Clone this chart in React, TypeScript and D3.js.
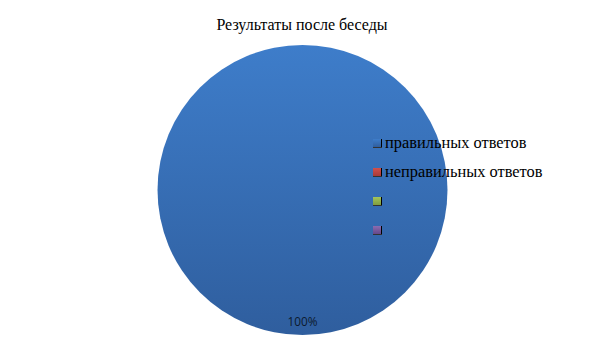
import React from "react";
import * as d3 from "d3";

const categories = ["правильных ответов", "неправильных ответов", "", ""];
const values = [100, 0, 0, 0];
const title = "Результаты после беседы";

const W = 605, H = 340;
const cx = 302.5, cy = 190, R = 145;

export default function App() {
  const pie = d3.pie<number>().value((d) => d).sort(null);
  const arcs = pie(values);
  const arcGen = d3.arc<d3.PieArcDatum<number>>().innerRadius(0).outerRadius(R);
  const labelArc = d3.arc<d3.PieArcDatum<number>>().innerRadius(R * 0.91).outerRadius(R * 0.91);
  const total = d3.sum(values);
  const fmt = d3.format(".0%");
  const legendY = d3.scalePoint<number>().domain(d3.range(categories.length)).range([143, 230]);
  return (
    <svg width={W} height={H} style={{ position: "absolute", left: 0, top: 0 }}>
      <defs>
        <linearGradient id="g0" x1="0" y1="0" x2="0" y2="1">
          <stop offset="0" stopColor="#3e7dca" />
          <stop offset="1" stopColor="#2f5e9e" />
        </linearGradient>
        <linearGradient id="g1" x1="0" y1="0" x2="0" y2="1">
          <stop offset="0" stopColor="#d0504d" />
          <stop offset="1" stopColor="#a83a37" />
        </linearGradient>
        <linearGradient id="g2" x1="0" y1="0" x2="0" y2="1">
          <stop offset="0" stopColor="#a3c55c" />
          <stop offset="1" stopColor="#7f9d40" />
        </linearGradient>
        <linearGradient id="g3" x1="0" y1="0" x2="0" y2="1">
          <stop offset="0" stopColor="#8a6cb0" />
          <stop offset="1" stopColor="#65488a" />
        </linearGradient>
      </defs>
      <rect width={W} height={H} fill="#fff" />
      <text x={302} y={30} textAnchor="middle" fontFamily="Liberation Serif" fontSize={16} fill="#000">{title}</text>
      <g transform={`translate(${cx},${cy})`}>
        {arcs.map((a, i) => a.endAngle - a.startAngle > 0 ? (
          <path key={i} d={arcGen(a) || ""} fill={`url(#g${i})`} />
        ) : null)}
        {arcs.map((a, i) => a.value > 0 ? (
          <text key={i} x={labelArc.centroid(a)[0]} y={labelArc.centroid(a)[1]} dy="0.35em" textAnchor="middle" fontFamily="Open Sans" fontSize={11.8} fill="#0d1a2e">{fmt(a.value / total)}</text>
        ) : null)}
      </g>
      {categories.map((c, i) => (
        <g key={i} transform={`translate(373,${legendY(i)})`}>
          <rect x={0} y={-4} width={8} height={8} fill={`url(#g${i})`} />
          <rect x={8} y={-4} width={1} height={9} fill="#000" />
          <rect x={0} y={4} width={9} height={1} fill="#333" />
          <text x={12} y={5} fontFamily="Liberation Serif" fontSize={16.4} fill="#000">{c}</text>
        </g>
      ))}
    </svg>
  );
}
